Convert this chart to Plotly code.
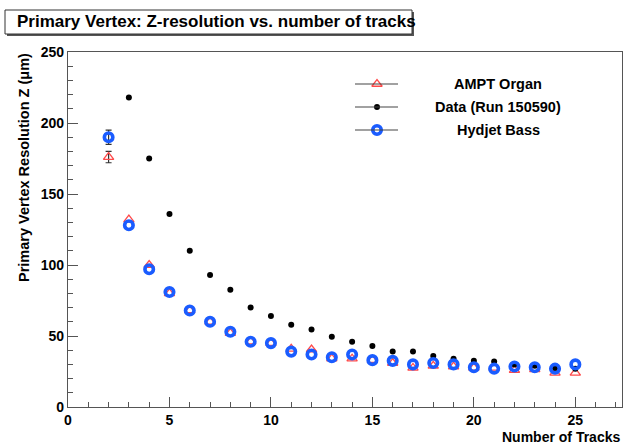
import plotly.graph_objects as go

# ---- data ----
ampt_x = [2, 3, 4, 5, 6, 7, 8, 9, 10, 11, 12, 13, 14, 15, 16, 17, 18, 19, 20, 21, 22, 23, 24, 25]
ampt_y = [176, 132, 100, 80, 68, 60, 52, 46, 45, 41, 40.5, 34, 34, 33, 31, 27.5, 29, 28.5, 27.5, 27.5, 26, 26.5, 24, 24]
# visible error bars (only the first bin has errors larger than the marker)
ampt_err_x = [2]
ampt_err_y = [176]
ampt_err = [4]

data_x = [3, 4, 5, 6, 7, 8, 9, 10, 11, 12, 13, 14, 15, 16, 17, 18, 19, 20, 21, 22, 23, 24, 25]
data_y = [218, 175, 136, 110, 93, 82.5, 70, 64, 58, 54.5, 49.5, 46, 43, 39, 39, 36, 34, 32.5, 32, 30, 29, 27.5, 27]

hyd_x = [2, 3, 4, 5, 6, 7, 8, 9, 10, 11, 12, 13, 14, 15, 16, 17, 18, 19, 20, 21, 22, 23, 24, 25]
hyd_y = [190, 128, 97, 81, 68, 60, 53, 46, 45, 39, 37, 35, 37, 33, 32.5, 30, 31, 30, 28, 27, 28.5, 28, 27, 30]
hyd_err_x = [2]
hyd_err_y = [190]
hyd_err = [5]

legend_names = ["AMPT Organ", "Data (Run 150590)", "Hydjet Bass"]

W, H = 624, 447
ML, MR, MT, MB = 68, 2, 52, 40
PW, PH = W - ML - MR, H - MT - MB


def px(x):
    return (x - ML) / PW


def py(y):
    return (H - MB - y) / PH


FONT = "Liberation Sans, Arial, sans-serif"
RED = "#ff4a4a"
BLUE = "#1a5cff"

ERR = dict(type="data", color="#333333", thickness=1.2, width=3)

fig = go.Figure()

# error bars only
fig.add_trace(go.Scatter(
    x=ampt_err_x, y=ampt_err_y, mode="markers", marker=dict(size=0.1, opacity=0),
    error_y=dict(array=ampt_err, **ERR), showlegend=False, hoverinfo="skip"))
fig.add_trace(go.Scatter(
    x=hyd_err_x, y=hyd_err_y, mode="markers", marker=dict(size=0.1, opacity=0),
    error_y=dict(array=hyd_err, **ERR), showlegend=False, hoverinfo="skip"))

fig.add_trace(go.Scatter(
    x=ampt_x, y=ampt_y, mode="markers", name=legend_names[0],
    marker=dict(symbol="triangle-up-open", size=9, color=RED, line=dict(width=1.3, color=RED)),
))
fig.add_trace(go.Scatter(
    x=data_x, y=data_y, mode="markers", name=legend_names[1],
    marker=dict(symbol="circle", size=6, color="black"),
))
fig.add_trace(go.Scatter(
    x=hyd_x, y=hyd_y, mode="markers", name=legend_names[2],
    marker=dict(symbol="circle-open", size=8.5, color=BLUE, line=dict(width=3.6, color=BLUE)),
))

# ---- manual ROOT-like legend ----
leg_rows = [84, 107, 130]
leg_styles = [
    dict(symbol="triangle-up-open", size=9, color=RED, line=dict(width=1.3, color=RED)),
    dict(symbol="circle", size=6, color="black"),
    dict(symbol="circle-open", size=8.5, color=BLUE, line=dict(width=3.6, color=BLUE)),
]
shapes = []
annotations = []
for name, ry, st in zip(legend_names, leg_rows, leg_styles):
    shapes.append(dict(type="line", xref="paper", yref="paper",
                       x0=px(355), x1=px(398), y0=py(ry), y1=py(ry),
                       line=dict(color="#444444", width=1.2)))
    annotations.append(dict(text="<b>%s</b>" % name, xref="paper", yref="paper",
                            x=px(498), y=py(ry), xanchor="center", yanchor="middle",
                            showarrow=False, font=dict(family=FONT, size=14.5, color="black")))
    fig.add_trace(go.Scatter(x=[px(377)], y=[py(ry)], xaxis="x2", yaxis="y2",
                             mode="markers", marker=st, showlegend=False, hoverinfo="skip"))

# ---- title box with shadow ----
shapes.append(dict(type="rect", xref="paper", yref="paper",
                   x0=px(7), x1=px(414), y0=py(36), y1=py(12),
                   line=dict(width=0), fillcolor="#555555", layer="above"))
shapes.append(dict(type="rect", xref="paper", yref="paper",
                   x0=px(5), x1=px(412), y0=py(34), y1=py(10),
                   line=dict(width=1, color="#333333"), fillcolor="white", layer="above"))
annotations.append(dict(text="<b>Primary Vertex: Z-resolution vs. number of tracks</b>",
                        xref="paper", yref="paper", x=px(216), y=py(22),
                        xanchor="center", yanchor="middle", showarrow=False,
                        font=dict(family=FONT, size=17, color="black")))

# ---- axis titles ----
annotations.append(dict(text="<b>Primary Vertex Resolution Z (\u03bcm)</b>",
                        xref="paper", yref="paper", x=px(24), y=py(168), textangle=-90,
                        xanchor="center", yanchor="middle", showarrow=False,
                        font=dict(family=FONT, size=14.5, color="black")))
annotations.append(dict(text="<b>Number of Tracks</b>",
                        xref="paper", yref="paper", x=px(622), y=py(437),
                        xanchor="right", yanchor="middle", showarrow=False,
                        font=dict(family=FONT, size=14, color="black")))

fig.update_layout(
    width=W, height=H,
    margin=dict(l=ML, r=MR, t=MT, b=MB),
    paper_bgcolor="white", plot_bgcolor="white",
    showlegend=False,
    font=dict(family=FONT, color="black"),
    shapes=shapes, annotations=annotations,
    xaxis=dict(range=[0, 27.3], showgrid=False, zeroline=False,
               showline=True, linecolor="#555555", linewidth=1.2, mirror=True,
               ticks="inside", ticklen=10, tickwidth=1.2, tickcolor="#555555",
               tick0=0, dtick=5,
               tickfont=dict(family=FONT, size=14, color="black"),
               tickprefix="<b>", ticksuffix="</b>",
               minor=dict(ticks="inside", ticklen=5, tickwidth=1, tickcolor="#555555", dtick=1, showgrid=False)),
    yaxis=dict(range=[0, 250], showgrid=False, zeroline=False,
               showline=True, linecolor="#555555", linewidth=1.2, mirror=True,
               ticks="inside", ticklen=10, tickwidth=1.2, tickcolor="#555555",
               tick0=0, dtick=50,
               tickfont=dict(family=FONT, size=14, color="black"),
               tickprefix="<b>", ticksuffix="</b>",
               minor=dict(ticks="inside", ticklen=5, tickwidth=1, tickcolor="#555555", dtick=10, showgrid=False)),
    xaxis2=dict(range=[0, 1], overlaying="x", visible=False, fixedrange=True),
    yaxis2=dict(range=[0, 1], overlaying="y", visible=False, fixedrange=True),
)

fig.write_html("out.html")
